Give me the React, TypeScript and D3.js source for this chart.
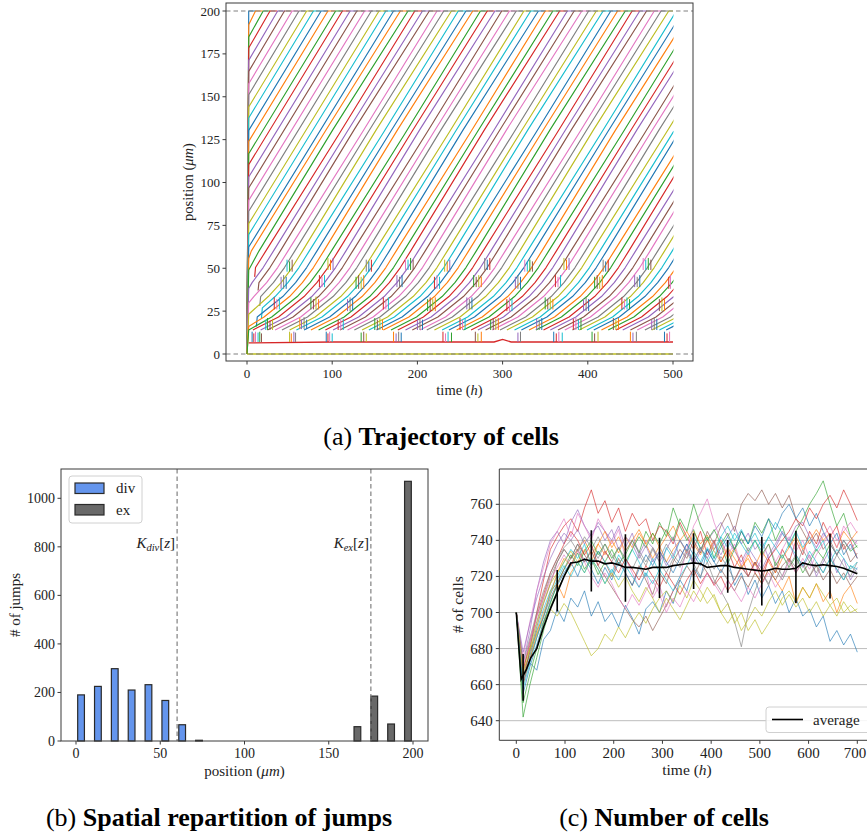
import React from "react";
import * as d3 from "d3";

const W = 867;
const H = 836;
const FONT = "'Liberation Serif', 'Times New Roman', serif";
const TAB10 = d3.schemeCategory10;
const AX = "#3a3a3a";

// ================= (a) Trajectory of cells =================
const A_X_TICKS = [0, 100, 200, 300, 400, 500];
const A_Y_TICKS = [0, 25, 50, 75, 100, 125, 150, 175, 200];
const T_END = 500;
const EXIT_HOLD = 8.5; // time an exited cell stays drawn on the 200 boundary
// cells present in the upper part at t = 0 : start position and time they reach 200
const INIT_UPPER_P0 = [198.4, 192, 184.8, 178.4, 171.2, 164.8, 157.6, 151.2, 144, 137.6, 130.4, 124, 116.8, 110.4, 103.2, 96.8, 89.6, 83.2, 76, 69.6, 62.4];
const INIT_UPPER_EXIT = [2, 10, 19, 27, 36, 44, 53, 61, 70, 78, 87, 95, 104, 112, 121, 129, 138, 146, 155, 163, 172];
// cells climbing out of the proliferative zone: flat (t, position) pairs
const CLIMB_PATHS = [
  [0, 0, 2, 55.7, 5, 60, 92, 130, 180, 200],
  [0, 0, 2, 49, 14, 60, 101, 131, 189, 200],
  [9, 45, 10, 50.4, 22, 60, 109, 129, 197, 200],
  [0, 0, 2, 38.2, 6, 41.6, 19, 50.4, 31, 60, 118, 130, 206, 200],
  [13, 37, 14, 41.6, 27, 50.4, 39, 60, 126, 131, 214, 200],
  [0, 0, 2, 29.8, 8, 33.5, 23, 41.6, 36, 50.4, 48, 60, 135, 129, 223, 200],
  [15, 28, 16, 33.5, 31, 41.6, 44, 50.4, 56, 60, 143, 130, 231, 200],
  [0, 0, 2, 23.2, 25, 33.5, 40, 41.6, 53, 50.4, 65, 60, 152, 131, 240, 200],
  [17, 21, 18, 26.9, 33, 33.5, 48, 41.6, 61, 50.4, 73, 60, 160, 129, 248, 200],
  [11, 16, 12, 21.6, 42, 33.5, 57, 41.6, 70, 50.4, 82, 60, 169, 130, 257, 200],
  [0, 0, 2, 16.1, 20, 21.6, 50, 33.5, 65, 41.6, 78, 50.4, 90, 60, 177, 131, 265, 200],
  [0, 0, 2, 14, 29, 21.6, 59, 33.5, 74, 41.6, 87, 50.4, 99, 60, 186, 129, 274, 200],
  [7, 14, 37, 21.6, 67, 33.5, 82, 41.6, 95, 50.4, 107, 60, 194, 130, 282, 200],
  [16, 14, 46, 21.6, 76, 33.5, 91, 41.6, 104, 50.4, 116, 60, 203, 131, 291, 200],
  [24, 14, 54, 21.6, 84, 33.5, 99, 41.6, 112, 50.4, 124, 60, 211, 129, 299, 200],
  [33, 14, 63, 21.6, 93, 33.5, 108, 41.6, 121, 50.4, 133, 60, 220, 130, 308, 200],
  [41, 14, 71, 21.6, 101, 33.5, 116, 41.6, 129, 50.4, 141, 60, 228, 131, 316, 200],
  [50, 14, 80, 21.6, 110, 33.5, 125, 41.6, 138, 50.4, 150, 60, 237, 129, 325, 200],
  [58, 14, 88, 21.6, 118, 33.5, 133, 41.6, 146, 50.4, 158, 60, 245, 130, 333, 200],
  [67, 14, 97, 21.6, 127, 33.5, 142, 41.6, 155, 50.4, 167, 60, 254, 131, 342, 200],
  [75, 14, 105, 21.6, 135, 33.5, 150, 41.6, 163, 50.4, 175, 60, 262, 129, 350, 200],
  [84, 14, 114, 21.6, 144, 33.5, 159, 41.6, 172, 50.4, 184, 60, 271, 130, 359, 200],
  [92, 14, 122, 21.6, 152, 33.5, 167, 41.6, 180, 50.4, 192, 60, 279, 131, 367, 200],
  [101, 14, 131, 21.6, 161, 33.5, 176, 41.6, 189, 50.4, 201, 60, 288, 129, 376, 200],
  [109, 14, 139, 21.6, 169, 33.5, 184, 41.6, 197, 50.4, 209, 60, 296, 130, 384, 200],
  [118, 14, 148, 21.6, 178, 33.5, 193, 41.6, 206, 50.4, 218, 60, 305, 131, 393, 200],
  [126, 14, 156, 21.6, 186, 33.5, 201, 41.6, 214, 50.4, 226, 60, 313, 129, 401, 200],
  [135, 14, 165, 21.6, 195, 33.5, 210, 41.6, 223, 50.4, 235, 60, 322, 130, 410, 200],
  [143, 14, 173, 21.6, 203, 33.5, 218, 41.6, 231, 50.4, 243, 60, 330, 131, 418, 200],
  [152, 14, 182, 21.6, 212, 33.5, 227, 41.6, 240, 50.4, 252, 60, 339, 129, 427, 200],
  [160, 14, 190, 21.6, 220, 33.5, 235, 41.6, 248, 50.4, 260, 60, 347, 130, 435, 200],
  [169, 14, 199, 21.6, 229, 33.5, 244, 41.6, 257, 50.4, 269, 60, 356, 131, 444, 200],
  [177, 14, 207, 21.6, 237, 33.5, 252, 41.6, 265, 50.4, 277, 60, 364, 129, 452, 200],
  [186, 14, 216, 21.6, 246, 33.5, 261, 41.6, 274, 50.4, 286, 60, 373, 130, 461, 200],
  [194, 14, 224, 21.6, 254, 33.5, 269, 41.6, 282, 50.4, 294, 60, 381, 131, 469, 200],
  [203, 14, 233, 21.6, 263, 33.5, 278, 41.6, 291, 50.4, 303, 60, 390, 129, 478, 200],
  [211, 14, 241, 21.6, 271, 33.5, 286, 41.6, 299, 50.4, 311, 60, 398, 130, 486, 200],
  [220, 14, 250, 21.6, 280, 33.5, 295, 41.6, 308, 50.4, 320, 60, 407, 131, 495, 200],
  [229, 14, 259, 21.6, 289, 33.5, 304, 41.6, 317, 50.4, 329, 60, 416, 129, 504, 200],
  [237, 14, 267, 21.6, 297, 33.5, 312, 41.6, 325, 50.4, 337, 60, 424, 130, 512, 200],
  [246, 14, 276, 21.6, 306, 33.5, 321, 41.6, 334, 50.4, 346, 60, 433, 131, 521, 200],
  [254, 14, 284, 21.6, 314, 33.5, 329, 41.6, 342, 50.4, 354, 60, 441, 129, 529, 200],
  [263, 14, 293, 21.6, 323, 33.5, 338, 41.6, 351, 50.4, 363, 60, 450, 130, 538, 200],
  [271, 14, 301, 21.6, 331, 33.5, 346, 41.6, 359, 50.4, 371, 60, 458, 131, 546, 200],
  [280, 14, 310, 21.6, 340, 33.5, 355, 41.6, 368, 50.4, 380, 60, 467, 129, 555, 200],
  [288, 14, 318, 21.6, 348, 33.5, 363, 41.6, 376, 50.4, 388, 60, 475, 130, 563, 200],
  [297, 14, 327, 21.6, 357, 33.5, 372, 41.6, 385, 50.4, 397, 60, 484, 131, 572, 200],
  [305, 14, 335, 21.6, 365, 33.5, 380, 41.6, 393, 50.4, 405, 60, 492, 129, 580, 200],
  [314, 14, 344, 21.6, 374, 33.5, 389, 41.6, 402, 50.4, 414, 60, 501, 130],
  [322, 14, 352, 21.6, 382, 33.5, 397, 41.6, 410, 50.4, 422, 60, 509, 131],
  [331, 14, 361, 21.6, 391, 33.5, 406, 41.6, 419, 50.4, 431, 60, 518, 129],
  [339, 14, 369, 21.6, 399, 33.5, 414, 41.6, 427, 50.4, 439, 60, 526, 130],
  [348, 14, 378, 21.6, 408, 33.5, 423, 41.6, 436, 50.4, 448, 60, 535, 131],
  [356, 14, 386, 21.6, 416, 33.5, 431, 41.6, 444, 50.4, 456, 60, 543, 129],
  [365, 14, 395, 21.6, 425, 33.5, 440, 41.6, 453, 50.4, 465, 60, 552, 130],
  [373, 14, 403, 21.6, 433, 33.5, 448, 41.6, 461, 50.4, 473, 60, 560, 131],
  [382, 14, 412, 21.6, 442, 33.5, 457, 41.6, 470, 50.4, 482, 60, 569, 129],
  [390, 14, 420, 21.6, 450, 33.5, 465, 41.6, 478, 50.4, 490, 60, 577, 130],
  [399, 14, 429, 21.6, 459, 33.5, 474, 41.6, 487, 50.4, 499, 60, 586, 131],
  [407, 14, 437, 21.6, 467, 33.5, 482, 41.6, 495, 50.4, 507, 60],
  [416, 14, 446, 21.6, 476, 33.5, 491, 41.6, 504, 50.4],
  [424, 14, 454, 21.6, 484, 33.5, 499, 41.6, 512, 50.4],
  [433, 14, 463, 21.6, 493, 33.5, 508, 41.6],
  [441, 14, 471, 21.6, 501, 33.5],
  [450, 14, 480, 21.6, 510, 33.5],
  [458, 14, 488, 21.6, 518, 33.5],
  [467, 14, 497, 21.6, 527, 33.5],
  [475, 14, 505, 21.6],
  [484, 14, 514, 21.6],
  [492, 14, 522, 21.6],
];
const BOTTOM_PATH = [2, 6.5, 100, 7, 290, 7, 300, 8.5, 310, 7, 500, 7];
const ZERO_PATH = [0, 0, 500, 0];
// division jumps: [t, from, to]
const SPIKES = [
  [6, 7, 13], [8, 7, 12], [10, 7, 13], [13, 7, 12.5], [15, 7, 13], [17, 7, 12],
  [50, 7, 13], [52, 7, 12], [55, 7, 13], [57, 7, 12.5],
  [93, 7, 13], [95, 7, 12], [97, 7, 13], [100, 7, 12],
  [134, 7, 12.5], [137, 7, 13], [140, 7, 12],
  [172, 7, 13], [175, 7, 12], [178, 7, 13], [181, 7, 12.5],
  [230, 7, 13], [233, 7, 12], [236, 7, 13], [240, 7, 12.5],
  [268, 7, 13], [271, 7, 12], [275, 7, 13],
  [318, 7, 12.5], [321, 7, 13],
  [360, 7, 13], [363, 7, 12], [366, 7, 13], [370, 7, 12.5],
  [405, 7, 13], [408, 7, 12], [412, 7, 13],
  [450, 7, 13], [453, 7, 12.5], [457, 7, 13],
  [490, 7, 13], [493, 7, 12], [496, 7, 13],
  [22, 14, 20], [24, 14, 21], [27, 14, 19.5], [30, 14, 20.5],
  [62, 14.5, 21], [64, 14.5, 20], [67, 14.5, 21.5], [70, 14.5, 20],
  [107, 14, 20], [110, 14, 21], [113, 14, 20.5],
  [150, 14, 21], [153, 14, 20], [156, 14, 21], [159, 14, 20],
  [200, 14, 20.5], [203, 14, 21], [206, 14, 20],
  [250, 14, 21], [253, 14, 20], [256, 14, 21],
  [286, 14, 20], [289, 14, 21], [292, 14, 20.5], [295, 14, 21],
  [340, 14, 21], [343, 14, 20], [346, 14, 21],
  [383, 14, 20.5], [386, 14, 21], [389, 14, 20], [392, 14, 21],
  [430, 14, 21], [433, 14, 20], [436, 14, 21],
  [475, 14, 20], [478, 14, 21], [481, 14, 20.5],
  [32, 26, 33], [35, 26, 32], [38, 26, 33],
  [75, 26, 33], [78, 26, 32], [81, 26, 33.5], [84, 26, 32],
  [118, 25, 32], [121, 25, 33], [124, 25, 32],
  [160, 26, 33], [163, 26, 32], [166, 26, 33],
  [212, 25, 32], [215, 25, 33], [218, 25, 32], [221, 25, 33],
  [258, 26, 33], [261, 26, 32], [264, 26, 33],
  [305, 25, 32], [308, 25, 33], [311, 25, 32],
  [350, 26, 33], [353, 26, 32], [356, 26, 33], [359, 26, 32],
  [395, 25, 32], [398, 25, 33], [401, 25, 32],
  [440, 26, 33], [443, 26, 32], [446, 26, 33], [449, 26, 32],
  [484, 25, 32], [487, 25, 33], [490, 25, 32],
  [40, 38, 45], [43, 38, 46], [46, 38, 45],
  [85, 39, 46], [88, 39, 45], [91, 39, 46],
  [128, 38, 45], [131, 38, 46], [134, 38, 45], [137, 38, 46],
  [176, 39, 46], [179, 39, 45], [182, 39, 46],
  [220, 38, 45], [223, 38, 46], [226, 38, 45],
  [266, 39, 46], [269, 39, 45], [272, 39, 46], [275, 39, 45],
  [315, 38, 45], [318, 38, 46], [321, 38, 45],
  [362, 39, 46], [365, 39, 45], [368, 39, 46],
  [408, 38, 45], [411, 38, 46], [414, 38, 45], [417, 38, 46],
  [455, 39, 46], [458, 39, 45], [461, 39, 46],
  [495, 38, 45], [497, 38, 46],
  [47, 48, 55], [50, 48, 54], [53, 48, 55],
  [95, 49, 56], [98, 49, 55], [101, 49, 56],
  [140, 48, 55], [143, 48, 54], [146, 48, 55],
  [186, 49, 56], [189, 49, 55], [192, 49, 56], [195, 49, 55],
  [232, 48, 55], [235, 48, 54], [238, 48, 55],
  [279, 49, 56], [282, 49, 55], [285, 49, 56],
  [326, 48, 55], [329, 48, 54], [332, 48, 55], [335, 48, 54],
  [372, 49, 56], [375, 49, 55], [378, 49, 56],
  [418, 48, 55], [421, 48, 54], [424, 48, 55],
  [465, 49, 56], [468, 49, 55], [471, 49, 56], [474, 49, 55],
];

// ================= (b) Spatial repartition of jumps =================
const B_BIN_STARTS = [0, 10, 20, 30, 40, 50, 60, 70, 80, 90, 100, 110, 120, 130, 140, 150, 160, 170, 180, 190];
const B_DIV = [190, 225, 298, 210, 232, 167, 67, 3, 0, 0, 0, 0, 0, 0, 0, 0, 0, 0, 0, 0];
const B_EX = [0, 0, 0, 0, 0, 0, 0, 0, 0, 0, 0, 0, 0, 0, 0, 0, 59, 185, 70, 1070];
const B_X_TICKS = [0, 50, 100, 150, 200];
const B_Y_TICKS = [0, 200, 400, 600, 800, 1000];
const K_DIV = 60;
const K_EX = 175;

// ================= (c) Number of cells =================
const C_X_TICKS = [0, 100, 200, 300, 400, 500, 600, 700];
const C_Y_TICKS = [640, 660, 680, 700, 720, 740, 760];
const C_TIMES = [0, 14, 28, 42, 56, 70, 84, 98, 112, 126, 140, 154, 168, 182, 196, 210, 224, 238, 252, 266, 280, 294, 308, 322, 336, 350, 364, 378, 392, 406, 420, 434, 448, 462, 476, 490, 504, 518, 532, 546, 560, 574, 588, 602, 616, 630, 644, 658, 672, 686, 700];
const C_RUNS = [
  [700, 664, 672, 668, 685, 690, 702, 695, 708, 703, 712, 698, 706, 695, 700, 692, 704, 697, 688, 702, 706, 700, 712, 705, 718, 712, 725, 719, 735, 728, 722, 730, 715, 722, 710, 718, 708, 715, 705, 712, 700, 708, 698, 702, 692, 698, 684, 690, 682, 688, 678],
  [700, 668, 676, 690, 697, 712, 716, 708, 722, 728, 735, 728, 738, 732, 740, 733, 742, 736, 744, 738, 730, 737, 728, 735, 740, 733, 745, 738, 743, 735, 740, 730, 736, 725, 730, 722, 716, 724, 718, 712, 720, 705, 714, 708, 716, 706, 712, 700, 710, 715, 705],
  [700, 642, 660, 675, 690, 703, 712, 720, 726, 733, 724, 730, 721, 728, 735, 727, 732, 740, 733, 745, 738, 750, 742, 758, 748, 740, 746, 735, 742, 730, 738, 727, 735, 745, 738, 750, 744, 752, 740, 748, 736, 745, 752, 760, 766, 773, 760, 748, 755, 742, 736],
  [700, 660, 680, 700, 718, 735, 742, 748, 752, 745, 758, 768, 755, 762, 750, 758, 745, 755, 748, 752, 740, 748, 745, 738, 750, 742, 735, 745, 732, 740, 728, 735, 725, 732, 720, 728, 718, 730, 722, 735, 728, 740, 732, 745, 738, 750, 742, 748, 735, 740, 730],
  [700, 672, 690, 712, 728, 740, 745, 738, 750, 757, 748, 742, 750, 745, 740, 748, 736, 744, 732, 740, 736, 728, 735, 742, 730, 738, 726, 734, 740, 745, 750, 742, 748, 738, 744, 735, 740, 730, 736, 744, 738, 730, 725, 732, 720, 728, 735, 722, 730, 718, 725],
  [700, 665, 678, 692, 705, 716, 728, 735, 730, 738, 732, 726, 734, 728, 720, 730, 722, 715, 726, 718, 710, 722, 716, 728, 735, 730, 740, 733, 745, 738, 748, 755, 745, 760, 766, 762, 768, 760, 766, 758, 765, 752, 745, 738, 744, 735, 740, 732, 738, 728, 733],
  [700, 675, 695, 712, 725, 738, 745, 752, 742, 755, 748, 740, 752, 745, 738, 746, 730, 722, 714, 722, 708, 715, 703, 712, 720, 735, 748, 755, 763, 750, 740, 732, 738, 726, 734, 722, 730, 738, 728, 735, 742, 734, 740, 730, 736, 742, 748, 740, 745, 750, 744],
  [700, 668, 682, 695, 708, 720, 728, 735, 730, 738, 728, 735, 742, 734, 728, 736, 730, 724, 732, 726, 735, 728, 722, 730, 725, 733, 727, 720, 728, 718, 712, 705, 695, 681, 700, 712, 722, 715, 728, 720, 730, 725, 735, 728, 722, 730, 724, 732, 726, 720, 728],
  [700, 670, 680, 688, 695, 702, 698, 705, 700, 692, 684, 676, 680, 688, 684, 692, 686, 694, 700, 694, 702, 708, 712, 706, 715, 708, 718, 712, 705, 710, 700, 705, 694, 700, 690, 696, 688, 694, 700, 708, 712, 706, 714, 708, 716, 710, 704, 698, 706, 700, 702],
  [700, 662, 676, 690, 702, 712, 720, 728, 735, 730, 738, 726, 734, 728, 722, 732, 726, 735, 728, 720, 730, 722, 736, 730, 740, 734, 742, 736, 728, 735, 742, 748, 740, 746, 738, 744, 736, 742, 750, 744, 738, 745, 736, 742, 734, 740, 728, 735, 730, 724, 728],
  [700, 655, 670, 682, 695, 706, 715, 722, 728, 720, 730, 724, 716, 725, 718, 728, 722, 715, 724, 732, 726, 734, 728, 722, 730, 738, 732, 726, 735, 728, 736, 742, 735, 745, 738, 748, 742, 752, 746, 755, 760, 752, 758, 748, 755, 745, 738, 744, 732, 738, 730],
  [700, 664, 674, 688, 700, 710, 722, 730, 726, 735, 740, 732, 738, 745, 736, 742, 734, 740, 746, 738, 744, 736, 742, 748, 740, 745, 738, 732, 740, 734, 728, 736, 730, 724, 732, 726, 734, 728, 722, 730, 736, 742, 735, 740, 746, 740, 744, 736, 745, 740, 745],
  [700, 650, 666, 680, 694, 705, 716, 724, 732, 726, 734, 740, 732, 738, 730, 736, 728, 735, 742, 736, 744, 738, 746, 740, 752, 745, 760, 748, 740, 746, 738, 744, 735, 741, 734, 740, 732, 738, 726, 732, 725, 731, 722, 728, 735, 730, 738, 732, 740, 734, 737],
  [700, 668, 684, 698, 710, 722, 730, 738, 745, 740, 732, 738, 726, 734, 728, 722, 730, 724, 718, 726, 720, 714, 722, 716, 710, 718, 724, 716, 722, 715, 720, 712, 718, 725, 720, 728, 722, 730, 735, 740, 745, 752, 748, 758, 752, 760, 765, 758, 768, 760, 751],
  [700, 678, 694, 708, 720, 730, 738, 744, 740, 746, 738, 744, 748, 740, 746, 735, 742, 738, 730, 737, 728, 734, 726, 732, 740, 734, 728, 736, 730, 738, 732, 740, 734, 728, 736, 730, 724, 732, 738, 745, 740, 748, 750, 742, 736, 744, 738, 732, 740, 735, 740],
  [700, 660, 674, 686, 698, 708, 716, 724, 730, 735, 728, 734, 726, 720, 714, 708, 702, 696, 692, 698, 690, 697, 704, 712, 718, 726, 720, 728, 722, 716, 724, 718, 712, 720, 714, 722, 716, 724, 718, 726, 730, 722, 728, 720, 726, 718, 724, 716, 722, 715, 720],
  [700, 670, 684, 698, 708, 718, 725, 732, 726, 734, 728, 720, 714, 722, 716, 708, 702, 710, 704, 712, 718, 710, 700, 708, 703, 712, 706, 714, 722, 716, 710, 718, 712, 706, 714, 708, 716, 722, 714, 720, 728, 722, 730, 724, 732, 738, 744, 736, 748, 742, 738],
  [700, 672, 686, 700, 712, 722, 730, 736, 740, 734, 742, 736, 730, 738, 732, 726, 734, 740, 734, 728, 736, 730, 738, 732, 727, 735, 729, 736, 730, 724, 731, 725, 718, 726, 720, 728, 722, 716, 724, 718, 726, 732, 726, 720, 728, 722, 730, 724, 718, 726, 722],
  [700, 666, 680, 694, 706, 716, 722, 728, 734, 728, 722, 730, 724, 716, 722, 714, 720, 712, 706, 714, 708, 700, 708, 702, 696, 704, 712, 706, 714, 708, 700, 694, 700, 690, 696, 703, 698, 706, 712, 704, 710, 703, 708, 700, 706, 698, 704, 708, 700, 704, 700],
  [700, 658, 672, 686, 698, 710, 718, 726, 720, 728, 722, 730, 724, 716, 724, 718, 726, 720, 714, 722, 716, 724, 718, 712, 720, 726, 734, 728, 736, 730, 742, 736, 744, 738, 732, 740, 734, 742, 736, 730, 738, 732, 726, 734, 728, 722, 730, 724, 718, 726, 724],
];
const C_AVG_T = [0, 10, 20, 30, 42, 56, 70, 84, 98, 112, 126, 140, 154, 168, 182, 196, 210, 224, 238, 252, 266, 280, 294, 308, 322, 336, 350, 364, 378, 392, 406, 420, 434, 448, 462, 476, 490, 504, 518, 532, 546, 560, 574, 588, 602, 616, 630, 644, 658, 672, 686, 700];
const C_AVG_V = [700, 663, 668, 675, 680, 692, 702, 711, 720, 727.5, 728, 729.5, 728.5, 728.5, 727, 727.5, 726.5, 725, 725, 724.5, 724, 725, 725, 725, 726, 726.5, 727, 727.5, 727, 725, 725.5, 726, 726, 725, 724.5, 724, 723.5, 723, 723.5, 724.5, 724, 724, 724.5, 727.5, 726.5, 726, 726.5, 726, 725.5, 724.5, 723, 721.5];
const C_ERR_T = [14, 84, 154, 224, 294, 364, 434, 504, 574, 644];
const C_ERR_MEAN = [664, 712, 728.6, 724.7, 724.8, 728.5, 725.6, 722.9, 725.3, 725.7];
const C_ERR_SD = [13, 11.5, 17, 18.7, 16.7, 15.5, 14.6, 19, 20, 18];

const pairs = (flat: number[]): [number, number][] => {
  const out: [number, number][] = [];
  for (let i = 0; i < flat.length; i += 2) out.push([flat[i], flat[i + 1]]);
  return out;
};

export default function App() {
  // ---------- scales (a)
  const xA = d3.scaleLinear().domain([0, 500]).range([247, 673]);
  const yA = d3.scaleLinear().domain([0, 200]).range([354, 11]);
  const A = { l: 226, r: 693, t: 3, b: 361 };
  const lineA = d3.line<[number, number]>().x((d) => xA(d[0])).y((d) => yA(d[1]));

  const traj: [number, number][][] = [];
  INIT_UPPER_P0.forEach((p0, i) => {
    const e = INIT_UPPER_EXIT[i];
    traj.push([[0, 0], [2, p0], [e, 200], [Math.min(e + EXIT_HOLD, T_END), 200]]);
  });
  CLIMB_PATHS.forEach((flat) => {
    const pts = pairs(flat);
    const last = pts[pts.length - 1];
    if (last[1] >= 200 && last[0] < T_END) pts.push([Math.min(last[0] + EXIT_HOLD, T_END), 200]);
    traj.push(pts);
  });

  // ---------- scales (b)
  const xB = d3.scaleLinear().domain([0, 200]).range([76, 413]);
  const yB = d3.scaleLinear().domain([0, 1000]).range([741, 498.3]);
  const B = { l: 61, r: 428, t: 469, b: 741 };

  // ---------- scales (c)
  const xC = d3.scaleLinear().domain([0, 700]).range([516.3, 857.3]);
  const yC = d3.scaleLinear().domain([640, 760]).range([720.7, 504.3]);
  const C = { l: 499.3, r: 874, t: 469, b: 740.3 };
  const lineC = d3.line<number>().x((_, i) => xC(C_TIMES[i])).y((d) => yC(d));
  const avgLine = d3.line<number>().x((_, i) => xC(C_AVG_T[i])).y((d) => yC(d));

  return (
    <svg width={W} height={H} style={{ position: "absolute", left: 0, top: 0, background: "#fff" }} fontFamily={FONT}>
      <defs>
        <clipPath id="clipA">
          <rect x={A.l} y={A.t} width={xA(T_END) - A.l + 0.5} height={A.b - A.t} />
        </clipPath>
        <clipPath id="clipC">
          <rect x={C.l} y={C.t} width={W - C.l} height={C.b - C.t} />
        </clipPath>
      </defs>

      {/* ================= (a) ================= */}
      <g clipPath="url(#clipA)">
        <path d={lineA(pairs(ZERO_PATH)) || ""} fill="none" stroke={TAB10[8]} strokeWidth={1.3} />
        {traj.map((pts, i) => (
          <path key={i} d={lineA(pts) || ""} fill="none" stroke={TAB10[i % 10]} strokeWidth={1.15} strokeLinejoin="round" />
        ))}
        <path d={lineA(pairs(BOTTOM_PATH)) || ""} fill="none" stroke={TAB10[3]} strokeWidth={1.3} />
        {SPIKES.map((s, i) => (
          <line key={i} x1={xA(s[0])} x2={xA(s[0])} y1={yA(s[1])} y2={yA(s[2])} stroke={TAB10[(i * 3) % 10]} strokeWidth={1} />
        ))}
      </g>
      {[0, 200].map((v) => (
        <line key={v} x1={A.l} x2={A.r} y1={yA(v)} y2={yA(v)} stroke="#808080" strokeWidth={1.2} strokeDasharray="4.5,3" />
      ))}
      <rect x={A.l} y={A.t} width={A.r - A.l} height={A.b - A.t} fill="none" stroke={AX} strokeWidth={1} />
      {A_X_TICKS.map((t) => (
        <g key={t}>
          <line x1={xA(t)} x2={xA(t)} y1={A.b} y2={A.b + 3.5} stroke={AX} />
          <text x={xA(t)} y={A.b + 17} textAnchor="middle" fontSize={13} fill="#222">{t}</text>
        </g>
      ))}
      {A_Y_TICKS.map((t) => (
        <g key={t}>
          <line x1={A.l} x2={A.l - 3.5} y1={yA(t)} y2={yA(t)} stroke={AX} />
          <text x={A.l - 6} y={yA(t) + 4.5} textAnchor="end" fontSize={13} fill="#222">{t}</text>
        </g>
      ))}
      <text x={(A.l + A.r) / 2} y={395} textAnchor="middle" fontSize={14.5} fill="#222">
        time (<tspan fontStyle="italic">h</tspan>)
      </text>
      <text transform={`translate(193,${(A.t + A.b) / 2}) rotate(-90)`} textAnchor="middle" fontSize={14.5} fill="#222">
        position (<tspan fontStyle="italic">μm</tspan>)
      </text>
      <text x={441} y={445} textAnchor="middle" fontSize={26} fill="#000">
        (a) <tspan fontWeight="bold">Trajectory of cells</tspan>
      </text>

      {/* ================= (b) ================= */}
      {B_BIN_STARTS.map((b, i) => (
        <g key={b}>
          {B_DIV[i] > 0 && (
            <rect x={xB(b + 1)} y={yB(B_DIV[i])} width={xB(b + 5) - xB(b + 1)} height={yB(0) - yB(B_DIV[i])} fill="#6495ED" stroke="#2a2a2a" strokeWidth={1.2} />
          )}
          {B_EX[i] > 0 && (
            <rect x={xB(b + 5)} y={yB(B_EX[i])} width={xB(b + 9) - xB(b + 5)} height={yB(0) - yB(B_EX[i])} fill="#696969" stroke="#2a2a2a" strokeWidth={1.2} />
          )}
        </g>
      ))}
      {[K_DIV, K_EX].map((k) => (
        <line key={k} x1={xB(k)} x2={xB(k)} y1={B.t} y2={B.b} stroke="#808080" strokeWidth={1.2} strokeDasharray="4.5,3" />
      ))}
      <text x={xB(K_DIV) - 2} y={548} textAnchor="end" fontSize={15} fill="#222">
        <tspan fontStyle="italic">K</tspan>
        <tspan fontStyle="italic" fontSize={10.5} dy={3}>div</tspan>
        <tspan dy={-3}>[</tspan>
        <tspan fontStyle="italic">z</tspan>
        <tspan>]</tspan>
      </text>
      <text x={xB(K_EX) - 2} y={548} textAnchor="end" fontSize={15} fill="#222">
        <tspan fontStyle="italic">K</tspan>
        <tspan fontStyle="italic" fontSize={10.5} dy={3}>ex</tspan>
        <tspan dy={-3}>[</tspan>
        <tspan fontStyle="italic">z</tspan>
        <tspan>]</tspan>
      </text>
      <rect x={B.l} y={B.t} width={B.r - B.l} height={B.b - B.t} fill="none" stroke={AX} strokeWidth={1} />
      {B_X_TICKS.map((t) => (
        <g key={t}>
          <line x1={xB(t)} x2={xB(t)} y1={B.b} y2={B.b + 3.5} stroke={AX} />
          <text x={xB(t)} y={B.b + 17} textAnchor="middle" fontSize={14} fill="#222">{t}</text>
        </g>
      ))}
      {B_Y_TICKS.map((t) => (
        <g key={t}>
          <line x1={B.l} x2={B.l - 3.5} y1={yB(t)} y2={yB(t)} stroke={AX} />
          <text x={B.l - 6} y={yB(t) + 5} textAnchor="end" fontSize={14} fill="#222">{t}</text>
        </g>
      ))}
      <rect x={69} y={476} width={73} height={47} rx={3} fill="#fff" fillOpacity={0.85} stroke="#d0d0d0" />
      <rect x={75} y={483} width={29} height={10.5} fill="#6495ED" stroke="#2a2a2a" strokeWidth={1.2} />
      <rect x={75} y={504.5} width={29} height={10.5} fill="#696969" stroke="#2a2a2a" strokeWidth={1.2} />
      <text x={116} y={493} fontSize={15} fill="#222">div</text>
      <text x={116} y={514.5} fontSize={15} fill="#222">ex</text>
      <text x={(B.l + B.r) / 2} y={776} textAnchor="middle" fontSize={15} fill="#222">
        position (<tspan fontStyle="italic">μm</tspan>)
      </text>
      <text transform={`translate(20,${(B.t + B.b) / 2}) rotate(-90)`} textAnchor="middle" fontSize={15} fill="#222">
        # of jumps
      </text>
      <text x={219} y={826} textAnchor="middle" fontSize={26} fill="#000">
        (b) <tspan fontWeight="bold">Spatial repartition of jumps</tspan>
      </text>

      {/* ================= (c) ================= */}
      <g clipPath="url(#clipC)">
        {C_Y_TICKS.map((t) => (
          <line key={t} x1={C.l} x2={C.r} y1={yC(t)} y2={yC(t)} stroke="#bdbdbd" strokeWidth={1} />
        ))}
        {C_RUNS.map((run, i) => (
          <path key={i} d={lineC(run) || ""} fill="none" stroke={TAB10[i % 10]} strokeWidth={0.8} strokeOpacity={0.8} />
        ))}
        <path d={avgLine(C_AVG_V) || ""} fill="none" stroke="#000" strokeWidth={1.6} />
        {C_ERR_T.map((t, i) => (
          <line key={t} x1={xC(t)} x2={xC(t)} y1={yC(C_ERR_MEAN[i] - C_ERR_SD[i])} y2={yC(C_ERR_MEAN[i] + C_ERR_SD[i])} stroke="#000" strokeWidth={1.6} />
        ))}
      </g>
      <line x1={C.l} x2={C.r} y1={C.t} y2={C.t} stroke={AX} />
      <line x1={C.l} x2={C.r} y1={C.b} y2={C.b} stroke={AX} />
      <line x1={C.l} x2={C.l} y1={C.t} y2={C.b} stroke={AX} />
      {C_X_TICKS.map((t) => (
        <g key={t}>
          <line x1={xC(t)} x2={xC(t)} y1={C.b} y2={C.b + 3.5} stroke={AX} />
          <text x={Math.min(xC(t), W - 12)} y={C.b + 17.5} textAnchor="middle" fontSize={15} fill="#222">{t}</text>
        </g>
      ))}
      {C_Y_TICKS.map((t) => (
        <g key={t}>
          <line x1={C.l} x2={C.l - 3.5} y1={yC(t)} y2={yC(t)} stroke={AX} />
          <text x={C.l - 6.5} y={yC(t) + 5} textAnchor="end" fontSize={15} fill="#222">{t}</text>
        </g>
      ))}
      <rect x={766} y={707} width={110} height={25.5} rx={3} fill="#fff" fillOpacity={0.85} stroke="#d0d0d0" />
      <line x1={772} x2={803} y1={719.5} y2={719.5} stroke="#000" strokeWidth={1.6} />
      <text x={813} y={724.5} fontSize={15} fill="#222">average</text>
      <text x={687} y={775} textAnchor="middle" fontSize={15.5} fill="#222">
        time (<tspan fontStyle="italic">h</tspan>)
      </text>
      <text transform={`translate(463,${(C.t + C.b) / 2}) rotate(-90)`} textAnchor="middle" fontSize={15.5} fill="#222">
        # of cells
      </text>
      <text x={664} y={826} textAnchor="middle" fontSize={26} fill="#000">
        (c) <tspan fontWeight="bold">Number of cells</tspan>
      </text>
    </svg>
  );
}
